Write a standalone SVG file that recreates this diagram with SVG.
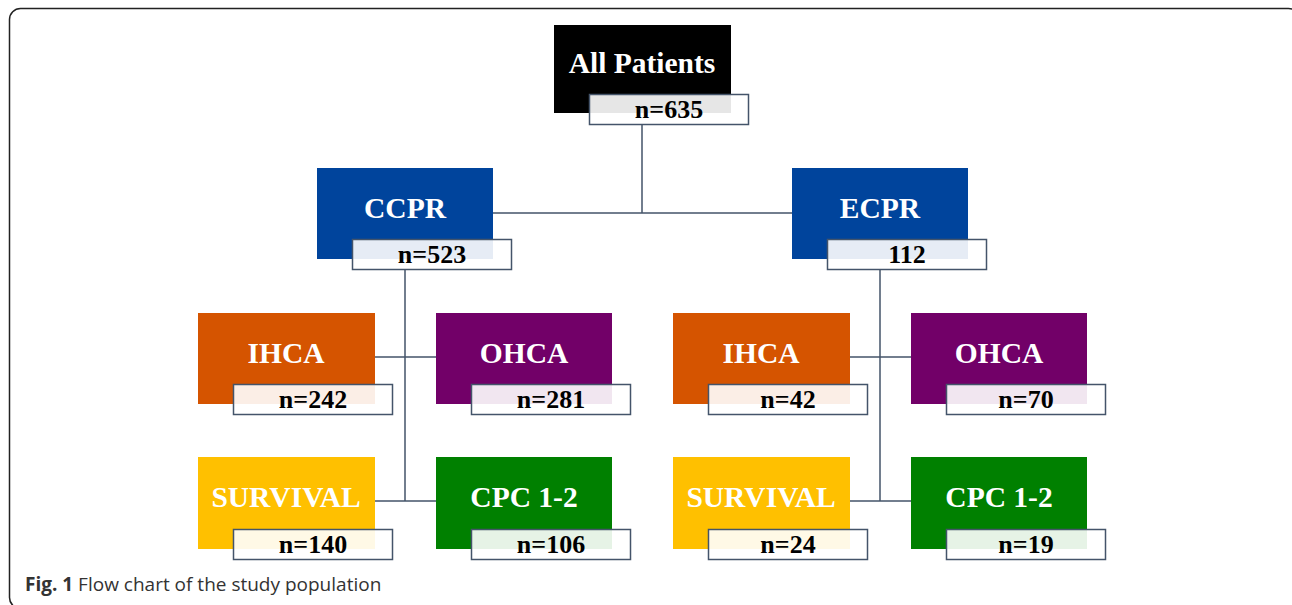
<svg xmlns="http://www.w3.org/2000/svg" width="1292" height="605" viewBox="0 0 1292 605">
<style>
.lbl{font-family:"Liberation Serif","Times New Roman",serif;font-weight:bold;font-size:29.5px;fill:#fff;text-anchor:middle}
.cnt{font-family:"Liberation Serif","Times New Roman",serif;font-weight:bold;font-size:26px;fill:#000;text-anchor:middle}
.cb{fill:#fff;fill-opacity:0.9;stroke:#44546A;stroke-width:1.5}
.con{stroke:#44546A;stroke-width:1.5;fill:none}
.cap{font-family:"Open Sans","Noto Sans",sans-serif;font-size:19px;fill:#333}
</style>
<rect x="9.5" y="8.5" width="1290" height="600" rx="11" fill="#fff" stroke="#222" stroke-width="1.5"/>
<g id="connectors">
<path class="con" d="M642 125V213M493 213H792"/>
<path class="con" d="M405 270V501M375 357H436M375 501H436"/>
<path class="con" d="M880 270V501M850 357H911M850 501H911"/>
</g>
<g id="all"><rect x="554" y="25" width="177" height="88" fill="#000"/><text class="lbl" x="642" y="73">All Patients</text><rect class="cb" x="589.5" y="94.5" width="159" height="30"/><text class="cnt" x="669" y="118">n=635</text></g>
<g id="ccpr"><rect x="317" y="168" width="176" height="91" fill="#00449C"/><text class="lbl" x="405" y="218">CCPR</text><rect class="cb" x="352.5" y="239.5" width="159" height="30"/><text class="cnt" x="432" y="263">n=523</text></g>
<g id="ecpr"><rect x="792" y="168" width="176" height="91" fill="#00449C"/><text class="lbl" x="880" y="218">ECPR</text><rect class="cb" x="827.5" y="239.5" width="159" height="30"/><text class="cnt" x="907" y="263">112</text></g>
<g id="ihca1"><rect x="198" y="313" width="177" height="91" fill="#D55400"/><text class="lbl" x="286" y="363">IHCA</text><rect class="cb" x="233.5" y="384.5" width="159" height="30"/><text class="cnt" x="313" y="408">n=242</text></g>
<g id="ohca1"><rect x="436" y="313" width="176" height="91" fill="#720068"/><text class="lbl" x="524" y="363">OHCA</text><rect class="cb" x="471.5" y="384.5" width="159" height="30"/><text class="cnt" x="551" y="408">n=281</text></g>
<g id="ihca2"><rect x="673" y="313" width="177" height="91" fill="#D55400"/><text class="lbl" x="761" y="363">IHCA</text><rect class="cb" x="708.5" y="384.5" width="159" height="30"/><text class="cnt" x="788" y="408">n=42</text></g>
<g id="ohca2"><rect x="911" y="313" width="176" height="91" fill="#720068"/><text class="lbl" x="999" y="363">OHCA</text><rect class="cb" x="946.5" y="384.5" width="159" height="30"/><text class="cnt" x="1026" y="408">n=70</text></g>
<g id="surv1"><rect x="198" y="457" width="177" height="92" fill="#FFC000"/><text class="lbl" x="286" y="507">SURVIVAL</text><rect class="cb" x="233.5" y="529.5" width="159" height="30"/><text class="cnt" x="313" y="553">n=140</text></g>
<g id="cpc1"><rect x="436" y="457" width="176" height="92" fill="#008000"/><text class="lbl" x="524" y="507">CPC 1-2</text><rect class="cb" x="471.5" y="529.5" width="159" height="30"/><text class="cnt" x="551" y="553">n=106</text></g>
<g id="surv2"><rect x="673" y="457" width="177" height="92" fill="#FFC000"/><text class="lbl" x="761" y="507">SURVIVAL</text><rect class="cb" x="708.5" y="529.5" width="159" height="30"/><text class="cnt" x="788" y="553">n=24</text></g>
<g id="cpc2"><rect x="911" y="457" width="176" height="92" fill="#008000"/><text class="lbl" x="999" y="507">CPC 1-2</text><rect class="cb" x="946.5" y="529.5" width="159" height="30"/><text class="cnt" x="1026" y="553">n=19</text></g>
<text class="cap" x="25" y="591"><tspan font-weight="bold">Fig. 1</tspan> Flow chart of the study population</text>
</svg>
